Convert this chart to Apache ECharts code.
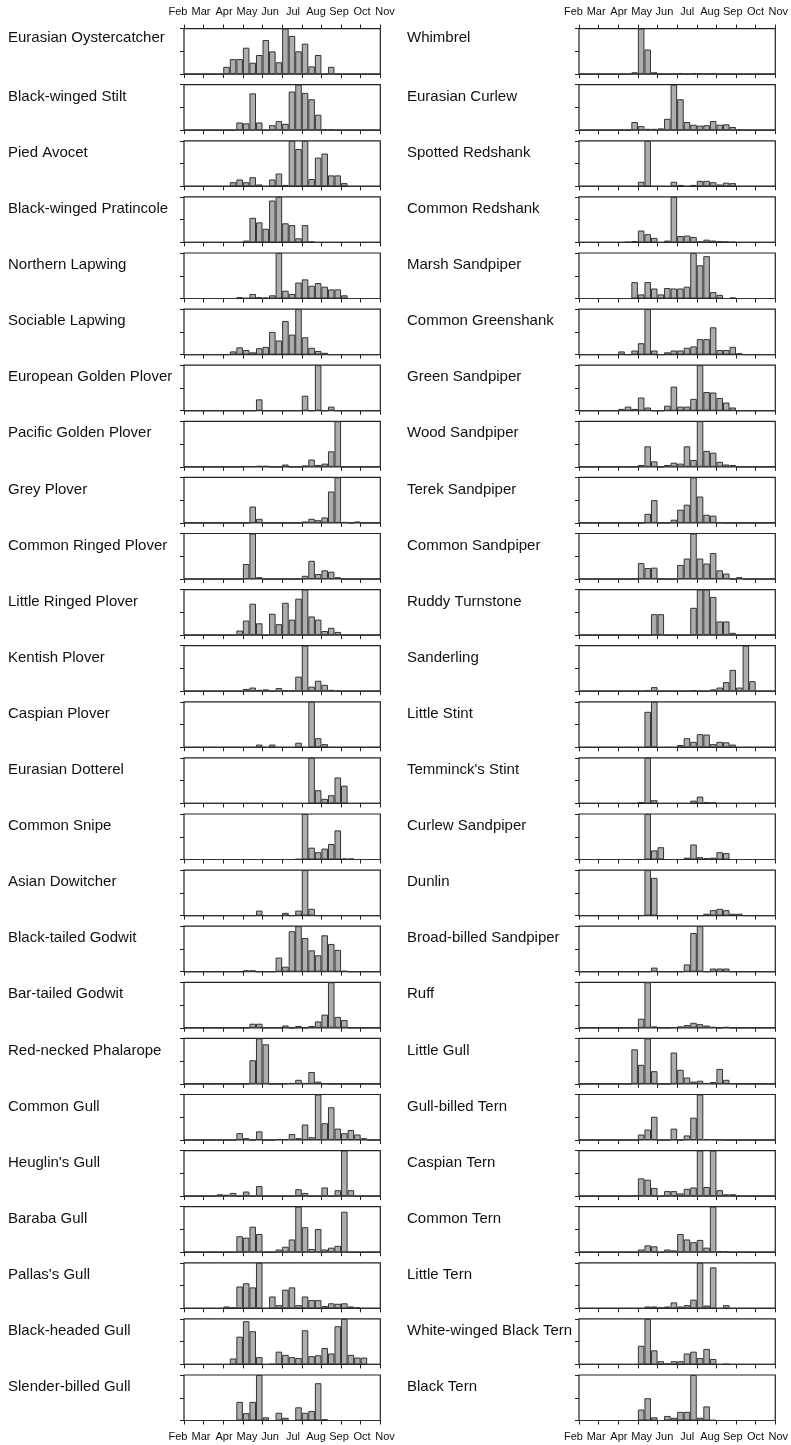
<!DOCTYPE html>
<html><head><meta charset="utf-8">
<script src="https://cdn.jsdelivr.net/npm/echarts@6/dist/echarts.min.js"></script>
<style>html,body{margin:0;padding:0;background:#fff}#c{width:791px;height:1445px}</style>
</head><body><div id="c"></div><script>
// ---- tick labels / categories ----
const months = ['Feb','Mar','Apr','May','Jun','Jul','Aug','Sep','Oct','Nov'];
const decades = months.flatMap(m => [m + ' I', m + ' II', m + ' III']); // 10-day bins

// ---- species names ----
const leftNames = ['Eurasian Oystercatcher','Black-winged Stilt','Pied Avocet','Black-winged Pratincole','Northern Lapwing','Sociable Lapwing','European Golden Plover','Pacific Golden Plover','Grey Plover','Common Ringed Plover','Little Ringed Plover','Kentish Plover','Caspian Plover','Eurasian Dotterel','Common Snipe','Asian Dowitcher','Black-tailed Godwit','Bar-tailed Godwit','Red-necked Phalarope','Common Gull',"Heuglin's Gull",'Baraba Gull',"Pallas's Gull",'Black-headed Gull','Slender-billed Gull'];
const rightNames = ['Whimbrel','Eurasian Curlew','Spotted Redshank','Common Redshank','Marsh Sandpiper','Common Greenshank','Green Sandpiper','Wood Sandpiper','Terek Sandpiper','Common Sandpiper','Ruddy Turnstone','Sanderling','Little Stint',"Temminck's Stint",'Curlew Sandpiper','Dunlin','Broad-billed Sandpiper','Ruff','Little Gull','Gull-billed Tern','Caspian Tern','Common Tern','Little Tern','White-winged Black Tern','Black Tern'];

// ---- values per 10-day bin (Feb I ... Nov III), % of species maximum ----
const eurasianOystercatcher = [0,0,0,0,0,0,16,33,33,58,25,42,75,50,26,100,84,50,67,17,42,0,16,0,0,0,0,0,0,0];
const blackWingedStilt     = [0,0,0,0,0,0,0,0,17,15,81,17,0,11,20,14,85,100,82,68,34,2,2,0,0,0,0,0,0,0];
const piedAvocet           = [0,0,0,0,0,0,0,9,15,9,20,4,0,15,28,3,100,82,100,16,63,72,24,24,7,0,0,0,0,0];
const blackWingedPratincole= [0,0,0,0,0,0,0,0,0,4,54,44,30,92,100,42,38,9,38,2,0,0,0,0,0,0,0,0,0,0];
const northernLapwing      = [0,0,0,0,0,0,0,0,3,1,10,3,2,7,100,17,10,35,42,28,34,26,20,20,7,0,0,0,0,0];
const sociableLapwing      = [0,0,0,0,0,0,0,7,16,10,5,14,17,50,31,74,44,100,38,15,8,4,0,0,0,0,0,0,0,0];
const europeanGoldenPlover = [0,0,0,0,0,0,0,0,0,0,0,25,0,0,0,0,0,0,33,0,100,0,9,0,0,0,0,0,0,0];
const pacificGoldenPlover  = [0,0,0,0,0,0,0,0,0,1,1,2,2,0,0,5,0,0,3,16,4,7,34,100,0,0,0,0,0,0];
const greyPlover           = [0,0,0,0,0,0,0,0,0,0,36,9,0,0,0,0,0,0,3,9,6,12,69,100,2,0,3,0,0,0];
const commonRingedPlover   = [0,0,0,0,0,0,0,0,0,33,100,4,0,0,0,0,0,0,7,40,11,19,16,4,0,0,0,0,0,0];
const littleRingedPlover   = [0,0,0,0,0,0,0,0,10,32,69,26,0,47,24,71,34,80,100,41,34,9,16,7,0,0,0,0,0,0];
const kentishPlover        = [0,0,0,0,0,0,0,0,0,5,8,3,4,0,7,2,2,32,100,10,23,14,3,1,0,0,0,0,0,0];
const caspianPlover        = [0,0,0,0,0,0,0,0,0,0,0,6,0,6,0,0,0,10,0,100,20,7,0,0,0,0,0,0,0,0];
const eurasianDotterel     = [0,0,0,0,0,0,0,0,0,0,0,0,0,0,0,0,0,0,0,100,29,10,18,57,39,0,0,0,0,0];
const commonSnipe          = [0,0,0,0,0,0,0,0,0,0,0,0,0,0,0,0,0,1,100,26,16,24,34,64,2,2,0,0,0,0];
const asianDowitcher       = [0,0,0,0,0,0,0,0,0,0,0,11,0,0,0,6,0,11,100,15,0,0,0,0,0,0,0,0,0,0];
const blackTailedGodwit    = [0,0,0,0,0,0,0,0,0,3,3,0,0,0,31,11,89,100,74,47,36,80,61,48,2,0,0,0,0,0];
const barTailedGodwit      = [0,0,0,0,0,0,0,0,0,0,9,9,0,0,0,5,0,4,0,4,14,29,100,24,17,0,0,0,0,0];
const redNeckedPhalarope   = [0,0,0,0,0,0,0,0,0,0,52,100,87,0,0,1,2,9,2,26,5,1,0,0,0,0,0,0,0,0];
const commonGull           = [0,0,0,0,0,0,0,0,15,4,0,19,0,0,2,2,13,4,34,6,100,37,72,25,15,22,12,4,0,0];
const heuglinsGull         = [0,0,0,0,0,4,3,7,0,10,0,22,0,0,0,0,0,15,7,0,0,19,0,13,100,13,0,0,0,0];
const barabaGull           = [0,0,0,0,0,0,0,0,35,32,56,40,0,0,6,12,28,100,55,7,51,6,10,14,89,0,0,0,0,0];
const pallassGull          = [0,0,0,0,0,0,4,2,48,55,46,100,0,26,7,41,46,7,26,18,18,5,11,10,11,4,2,0,0,0];
const blackHeadedGull      = [0,0,0,0,0,0,0,13,61,95,73,16,0,1,28,21,16,14,75,18,20,36,24,84,100,21,15,15,0,0];
const slenderBilledGull    = [0,0,0,0,0,0,0,0,41,16,41,100,7,0,17,6,0,29,17,21,82,3,0,0,0,0,0,0,0,0];

const whimbrel             = [0,0,0,0,0,0,0,0,4,100,54,4,0,0,0,2,0,2,2,0,2,0,0,0,0,0,0,0,0,0];
const eurasianCurlew       = [0,0,0,0,0,0,1,1,18,9,3,3,4,25,100,68,18,12,10,11,20,12,13,7,2,0,0,0,0,0];
const spottedRedshank      = [0,0,0,0,0,0,0,0,0,10,100,0,0,0,10,3,0,3,12,12,9,4,8,7,0,0,0,0,0,0];
const commonRedshank       = [0,0,0,0,0,0,0,1,3,26,18,10,0,4,100,14,15,12,2,6,4,3,2,1,0,0,0,0,0,0];
const marshSandpiper       = [0,0,0,0,0,0,0,0,36,9,36,22,9,23,22,22,26,100,73,93,14,8,0,2,0,0,0,0,0,0];
const commonGreenshank     = [0,0,0,0,0,0,7,0,9,25,100,9,0,5,9,9,15,18,34,34,60,10,10,17,3,0,0,0,0,0];
const greenSandpiper       = [0,0,0,0,0,0,4,9,4,29,7,0,0,11,53,9,9,26,100,41,40,28,18,7,0,0,0,0,0,0];
const woodSandpiper        = [0,0,0,0,0,0,0,0,0,4,45,12,0,4,9,7,45,15,100,35,31,11,5,4,0,0,0,0,0,0];
const terekSandpiper       = [0,0,0,0,0,0,0,0,0,0,20,50,0,0,7,29,40,100,58,18,16,1,0,0,0,0,0,0,0,0];
const commonSandpiper      = [0,0,0,0,0,0,0,0,0,35,24,25,0,0,0,31,45,100,45,34,57,19,12,0,4,0,0,0,0,0];
const ruddyTurnstone       = [0,0,0,0,0,0,0,0,0,0,0,46,46,0,0,0,0,60,100,100,84,30,30,5,0,0,0,0,0,0];
const sanderling           = [0,0,0,0,0,0,0,0,0,0,2,9,0,0,0,0,0,2,0,0,4,8,20,47,8,100,22,0,0,0];
const littleStint          = [0,0,0,0,0,0,0,0,0,0,78,100,0,0,0,5,20,12,29,28,7,12,11,6,0,0,0,0,0,0];
const temmincksStint       = [0,0,0,0,0,0,0,0,0,3,100,7,0,0,0,0,0,6,15,3,2,0,0,0,0,0,0,0,0,0];
const curlewSandpiper      = [0,0,0,0,0,0,0,0,0,0,100,20,27,0,0,0,4,33,5,3,4,16,14,0,0,0,0,0,0,0];
const dunlin               = [0,0,0,0,0,0,0,0,0,0,100,83,0,0,0,0,0,0,0,4,12,15,12,4,4,0,0,0,0,0];
const broadBilledSandpiper = [0,0,0,0,0,0,0,0,0,0,0,9,0,0,0,0,16,85,100,0,7,7,7,0,0,0,0,0,0,0];
const ruff                 = [0,0,0,0,0,0,0,0,0,20,100,3,0,0,1,3,6,11,8,5,2,0,2,0,0,0,0,0,0,0];
const littleGull           = [0,0,0,0,0,0,0,0,76,42,100,28,0,0,69,31,14,5,7,2,4,33,9,1,0,0,0,0,0,0];
const gullBilledTern       = [0,0,0,0,0,0,0,0,0,12,23,51,0,0,25,0,10,49,100,2,2,1,0,0,0,0,0,0,0,0];
const caspianTern          = [0,0,0,0,0,0,0,0,2,39,36,18,0,11,11,6,16,19,100,20,100,13,4,4,0,0,0,0,0,0];
const commonTern           = [0,0,0,0,0,0,0,0,0,6,15,13,0,6,4,40,28,22,27,10,100,2,2,0,0,0,0,0,0,0];
const littleTern           = [0,0,0,0,0,0,0,0,0,0,4,4,2,4,13,4,7,19,100,6,90,0,7,0,0,0,0,0,0,0];
const whiteWingedBlackTern = [0,0,0,0,0,0,0,0,0,41,100,31,7,2,7,7,24,28,14,34,12,0,1,0,0,0,0,0,0,0];
const blackTern            = [0,0,0,0,0,0,0,0,0,24,49,7,0,10,6,19,19,100,6,31,1,0,0,0,0,0,0,0,0,0];

const leftValues = [eurasianOystercatcher,blackWingedStilt,piedAvocet,blackWingedPratincole,northernLapwing,sociableLapwing,europeanGoldenPlover,pacificGoldenPlover,greyPlover,commonRingedPlover,littleRingedPlover,kentishPlover,caspianPlover,eurasianDotterel,commonSnipe,asianDowitcher,blackTailedGodwit,barTailedGodwit,redNeckedPhalarope,commonGull,heuglinsGull,barabaGull,pallassGull,blackHeadedGull,slenderBilledGull];
const rightValues = [whimbrel,eurasianCurlew,spottedRedshank,commonRedshank,marshSandpiper,commonGreenshank,greenSandpiper,woodSandpiper,terekSandpiper,commonSandpiper,ruddyTurnstone,sanderling,littleStint,temmincksStint,curlewSandpiper,dunlin,broadBilledSandpiper,ruff,littleGull,gullBilledTern,caspianTern,commonTern,littleTern,whiteWingedBlackTern,blackTern];

// ---- layout ----
const FONT = 'Liberation Sans, Arial, sans-serif';
const INK = '#222222';
const columns = [
  {names: leftNames, values: leftValues, plotLeft: 184, labelX: 8, monthLeft: 166.5},
  {names: rightNames, values: rightValues, plotLeft: 579, labelX: 407, monthLeft: 562}
];
const PLOT_W = 196.3, PLOT_H = 45.5, TOP0 = 28.6, PITCH = 56.1;

const grid = [], xAxis = [], yAxis = [], series = [], title = [];
const tickStyle = {color: INK, width: 1};
const tickAxis = (g, pos) => ({gridIndex: g, type: 'value', min: 0, max: 30, interval: 3, position: pos,
  axisLine: {show: false, onZero: false}, axisTick: {show: true, length: 4, inside: false, lineStyle: tickStyle},
  axisLabel: {show: false}, splitLine: {show: false}});

columns.forEach(col => {
  col.names.forEach((name, r) => {
    const top = TOP0 + r * PITCH;
    const g = grid.length;
    grid.push({left: col.plotLeft, top: top, width: PLOT_W, height: PLOT_H, show: true,
      borderColor: INK, borderWidth: 1.2, backgroundColor: 'rgba(0,0,0,0)', containLabel: false});
    const cat = xAxis.length;
    xAxis.push({gridIndex: g, type: 'category', data: decades, boundaryGap: true, position: 'top', show: false});
    xAxis.push(tickAxis(g, 'bottom'));
    const y = yAxis.length;
    yAxis.push({gridIndex: g, type: 'value', min: 0, max: 100, interval: 50,
      axisLine: {show: false}, axisTick: {show: true, length: 4, inside: false, lineStyle: tickStyle},
      axisLabel: {show: false}, splitLine: {show: false}});
    series.push({type: 'bar', xAxisIndex: cat, yAxisIndex: y, data: col.values[r],
      barCategoryGap: '0%', silent: true,
      itemStyle: {color: '#adadad', borderColor: '#333333', borderWidth: 1}});
    title.push({text: name, left: col.labelX, top: top + (r === 0 ? 1.5 : 4.5), padding: 0,
      textStyle: {fontSize: 15, fontWeight: 'normal', color: '#111', fontFamily: FONT}});
    if (r === 0) {
      // ticks along the top edge of the first panel
      const gt = grid.length;
      grid.push({left: col.plotLeft, top: top, width: PLOT_W, height: PLOT_H, show: false});
      xAxis.push(tickAxis(gt, 'top'));
      yAxis.push({gridIndex: gt, type: 'value', min: 0, max: 100, show: false});
    }
  });
  // month labels, top and bottom
  [{pos: 'top', top: 18.5, margin: 1}, {pos: 'bottom', top: 1424, margin: 6}].forEach(m => {
    const g = grid.length;
    grid.push({left: col.monthLeft, top: m.top, width: 230, height: 1, show: false});
    xAxis.push({gridIndex: g, type: 'category', data: months, boundaryGap: true, position: m.pos,
      axisLine: {show: false, onZero: false}, axisTick: {show: false},
      axisLabel: {interval: 0, margin: m.margin, fontSize: 11, color: '#111', fontFamily: FONT}});
    yAxis.push({gridIndex: g, type: 'value', show: false});
  });
});

const chart = echarts.init(document.getElementById('c'), null, {renderer: 'canvas'});
chart.setOption({animation: false, backgroundColor: '#ffffff', title, grid, xAxis, yAxis, series});
</script></body></html>
